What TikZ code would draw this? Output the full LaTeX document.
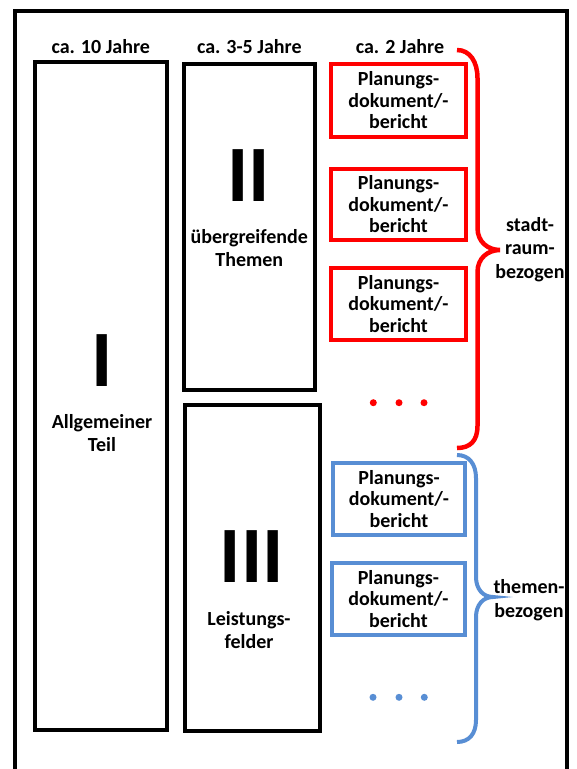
\documentclass[tikz,border=0pt]{standalone}
\usepackage{fontspec}
\setmainfont{Carlito}
\definecolor{myred}{RGB}{255,0,0}
\definecolor{myblue}{RGB}{88,142,212}
\begin{document}
\begin{tikzpicture}[x=1pt,y=-1pt,
  frame/.style={draw=black,line width=4pt},
  bbox/.style={draw=black,line width=4pt,inner sep=0pt,outer sep=0pt},
  docbox/.style={line width=4pt,inner sep=0pt,outer sep=0pt,align=center,
    font=\bfseries\fontsize{20}{21.5}\selectfont},
  rbox/.style={docbox,draw=myred},
  blbox/.style={docbox,draw=myblue},
  lbl/.style={inner sep=0pt,align=center,font=\bfseries\fontsize{20}{23.5}\selectfont},
  hdr/.style={inner sep=0pt,anchor=base,font=\bfseries\fontsize{20}{24}\selectfont},
  numeral/.style={inner sep=0pt,anchor=base,font=\bfseries\fontsize{80}{80}\selectfont},
  rbrace/.style={draw=myred,line width=4.5pt},
  bbrace/.style={draw=myblue,line width=4pt},
  rdot/.style={circle,fill=myred,inner sep=0pt,minimum size=7pt},
  bdot/.style={circle,fill=myblue,inner sep=0pt,minimum size=7pt}]
\useasboundingbox (0,0) rectangle (577,769);
\clip (0,0) rectangle (577,769);
\fill[white] (0,0) rectangle (577,769);

% outer frame (open at the bottom)
\coordinate (f1) at (15.3,775);
\coordinate (f2) at (15.3,11.3);
\coordinate (f3) at (567,11.3);
\coordinate (f4) at (567,775);
\draw[frame] (f1) -- (f2) -- (f3) -- (f4);

% headers
\node[hdr] (h1) at (100.75,53) {ca. 10 Jahre};
\node[hdr] (h2) at (249.3,53) {ca. 3-5 Jahre};
\node[hdr] (h3) at (400,53) {ca. 2 Jahre};

% black boxes
\node[bbox,minimum width=132.5pt,minimum height=668pt] (b1) at (100.75,396) {};
\node[bbox,minimum width=131.3pt,minimum height=326pt] (b2) at (249.35,227) {};
\node[bbox,minimum width=135pt,minimum height=326.5pt] (b3) at (252.5,567.75) {};

% contents of black boxes
\node[numeral] (n1) at (101.7,386) {I};
\node[lbl] (t1) at (102,433) {Allgemeiner\\Teil};
\node[numeral] (n2) at (248.5,201) {II};
\node[lbl] (t2) at (249.3,248) {übergreifende\\Themen};
\node[numeral] (n3) at (251.7,582.5) {III};
\node[lbl] (t3) at (249,630) {Leistungs-\\felder};

% red document boxes
\node[rbox,minimum width=135pt,minimum height=73.5pt] (r1) at (398.5,100.25) {Planungs-\\dokument/-\\bericht};
\node[rbox,minimum width=135pt,minimum height=71.5pt] (r2) at (398.5,204.25) {Planungs-\\dokument/-\\bericht};
\node[rbox,minimum width=135pt,minimum height=72pt] (r3) at (398.5,304) {Planungs-\\dokument/-\\bericht};
\node[rdot] (rd1) at (373.3,402.7) {};
\node[rdot] (rd2) at (399,402.7) {};
\node[rdot] (rd3) at (424,402.7) {};

% blue document boxes
\node[blbox,minimum width=132pt,minimum height=72pt] (u1) at (399,499) {Planungs-\\dokument/-\\bericht};
\node[blbox,minimum width=133.3pt,minimum height=71.7pt] (u2) at (398.4,598.9) {Planungs-\\dokument/-\\bericht};
\node[bdot] (bd1) at (373,697.3) {};
\node[bdot] (bd2) at (399,697.3) {};
\node[bdot] (bd3) at (424.3,697.3) {};

% red brace
\coordinate (rt) at (457,50);
\coordinate (ra) at (477.5,78);
\coordinate (rb) at (477.5,228);
\coordinate (rtip) at (500,250);
\coordinate (rc) at (477.5,272);
\coordinate (rd) at (477.5,426);
\coordinate (re) at (457,448);
\draw[rbrace] (rt) .. controls +(13,0) and +(0,-16) .. (ra) -- (rb)
  .. controls +(0,14) and +(-12,0) .. (rtip)
  .. controls +(-12,0) and +(0,-14) .. (rc) -- (rd)
  .. controls +(0,15) and +(13,0) .. (re);
\node[lbl] (sl) at (530,249.5) {stadt-\\raum-\\bezogen};

% blue brace
\coordinate (bt) at (457,455);
\coordinate (ba) at (476,478);
\coordinate (bb) at (476,577);
\coordinate (btip) at (493,597);
\coordinate (bc) at (476,617);
\coordinate (bdd) at (476,720);
\coordinate (be) at (457,742);
\draw[bbrace] (bt) .. controls +(12,0) and +(0,-14) .. (ba) -- (bb)
  .. controls +(0,12) and +(-10,0) .. (btip)
  .. controls +(-10,0) and +(0,-12) .. (bc) -- (bdd)
  .. controls +(0,14) and +(12,0) .. (be);
\node[lbl] (tl) at (529,600) {themen-\\bezogen};
\end{tikzpicture}
\end{document}
